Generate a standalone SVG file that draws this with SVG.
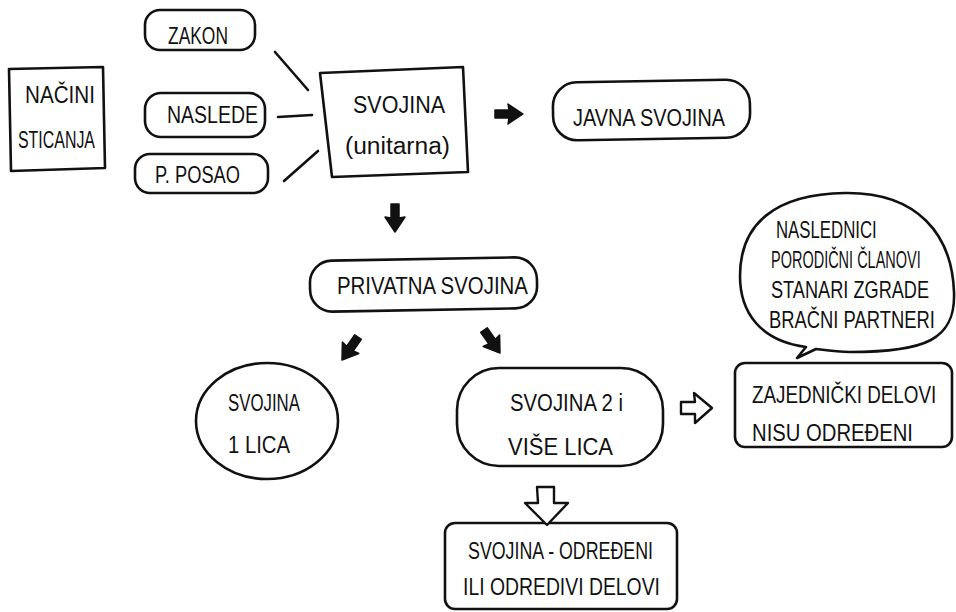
<svg xmlns="http://www.w3.org/2000/svg" width="956" height="612" viewBox="0 0 956 612">
<style>
.s{fill:none;stroke:#111;stroke-width:2.6;stroke-linejoin:round;stroke-linecap:round}
.t{font-family:"Liberation Sans","DejaVu Sans",sans-serif;fill:#111;font-size:23px}
.ln{fill:none;stroke:#111;stroke-width:2.6;stroke-linecap:round}
.fa{fill:#111;stroke:#111;stroke-width:1.5;stroke-linejoin:round}
.oa{fill:#fff;stroke:#111;stroke-width:2.4;stroke-linejoin:round}
</style>
<defs>
<polygon id="darr" points="-4,-28 4,-28 4,-14 10,-15 0,0 -10,-15 -4,-14"/>
</defs>
<rect width="956" height="612" fill="#fff"/>

<g id="nacini">
<path class="s" d="M9 69 L103 67 L105 168 L11 171 Z"/>
<text class="t" x="25" y="103" font-size="22" textLength="70" lengthAdjust="spacingAndGlyphs">NAČINI</text>
<text class="t" x="18" y="148" font-size="22" textLength="77" lengthAdjust="spacingAndGlyphs">STICANJA</text>
</g>

<g id="zakon">
<rect class="s" x="145" y="10" width="110" height="40" rx="15"/>
<text class="t" x="168" y="44" textLength="60" lengthAdjust="spacingAndGlyphs">ZAKON</text>
</g>

<g id="nasledje">
<rect class="s" x="145" y="93" width="120" height="44" rx="16"/>
<text class="t" x="167" y="123" textLength="91" lengthAdjust="spacingAndGlyphs">NASLEDE</text>
</g>

<g id="posao">
<rect class="s" x="135" y="154" width="133" height="39" rx="15"/>
<text class="t" x="155" y="183" textLength="85" lengthAdjust="spacingAndGlyphs">P. POSAO</text>
</g>

<g id="svojina">
<path class="s" d="M320 73 L463 67 L468 172 L332 177 Z"/>
<text class="t" x="353" y="113" font-size="36" textLength="92" lengthAdjust="spacingAndGlyphs">SVOJINA</text>
<text class="t" x="345" y="154" font-size="25" textLength="105" lengthAdjust="spacingAndGlyphs">(unitarna)</text>
</g>

<g id="javna">
<rect class="s" x="553" y="81" width="197" height="58" rx="24" transform="rotate(-1 651 110)"/>
<text class="t" x="573" y="126" font-size="24" textLength="152" lengthAdjust="spacingAndGlyphs">JAVNA SVOJINA</text>
</g>

<g id="privatna">
<rect class="s" x="310" y="259" width="227" height="51" rx="22" transform="rotate(-1 423 284)"/>
<text class="t" x="337" y="294" textLength="191" lengthAdjust="spacingAndGlyphs">PRIVATNA SVOJINA</text>
</g>

<g id="jedno-lice">
<ellipse class="s" cx="267" cy="421" rx="71" ry="58"/>
<text class="t" x="228" y="411" textLength="72" lengthAdjust="spacingAndGlyphs">SVOJINA</text>
<text class="t" x="228" y="453" textLength="62" lengthAdjust="spacingAndGlyphs">1 LICA</text>
</g>

<g id="vise-lica">
<rect class="s" x="457" y="368" width="206" height="98" rx="42"/>
<text class="t" x="510" y="411" textLength="113" lengthAdjust="spacingAndGlyphs">SVOJINA 2 i</text>
<text class="t" x="508" y="455" textLength="105" lengthAdjust="spacingAndGlyphs">VIŠE LICA</text>
</g>

<g id="oblacic">
<path class="s" d="M797 358 L806 347 C760 341 740 312 740 276 C740 224 775 194 845 193 C918 192 952 235 954 292 C956 340 925 352 850 352 C836 352 824 350 816 349 Z"/>
<text class="t" font-size="20" transform="translate(776 238) scale(0.73 1)">NASLEDNICI</text>
<text class="t" font-size="20" transform="translate(771 268) scale(0.63 1)">PORODIČNI ČLANOVI</text>
<text class="t" font-size="20" transform="translate(771 298) scale(0.79 1)">STANARI ZGRADE</text>
<text class="t" font-size="20" transform="translate(769 328) scale(0.8 1)">BRAČNI PARTNERI</text>
</g>

<g id="zajednicki">
<rect class="s" x="735" y="363" width="217" height="84" rx="10"/>
<text class="t" transform="translate(752 403) scale(0.82 1)">ZAJEDNIČKI DELOVI</text>
<text class="t" x="752" y="441" textLength="161" lengthAdjust="spacingAndGlyphs">NISU ODREĐENI</text>
</g>

<g id="odredjeni">
<rect class="s" x="445" y="523" width="232" height="86" rx="10"/>
<text class="t" x="468" y="559" font-size="22" textLength="185" lengthAdjust="spacingAndGlyphs">SVOJINA - ODREĐENI</text>
<text class="t" x="463" y="595" font-size="22" textLength="197" lengthAdjust="spacingAndGlyphs">ILI ODREDIVI DELOVI</text>
</g>

<g id="connectors">
<line class="ln" x1="275" y1="52" x2="308" y2="90"/>
<line class="ln" x1="278" y1="117" x2="312" y2="115"/>
<line class="ln" x1="284" y1="181" x2="318" y2="151"/>
<use href="#darr" class="fa" transform="translate(523 114) rotate(-90)"/>
<use href="#darr" class="fa" transform="translate(395 232)"/>
<use href="#darr" class="fa" transform="translate(342 360) rotate(35)"/>
<use href="#darr" class="fa" transform="translate(500 353) rotate(-35)"/>
<polygon class="oa" points="681,402 695,402 694,393 712,408 695,423 695,414 681,414"/>
<polygon class="oa" points="537,487 554,487 554,503 568,503 547,525 525,503 538,503"/>
</g>
</svg>
